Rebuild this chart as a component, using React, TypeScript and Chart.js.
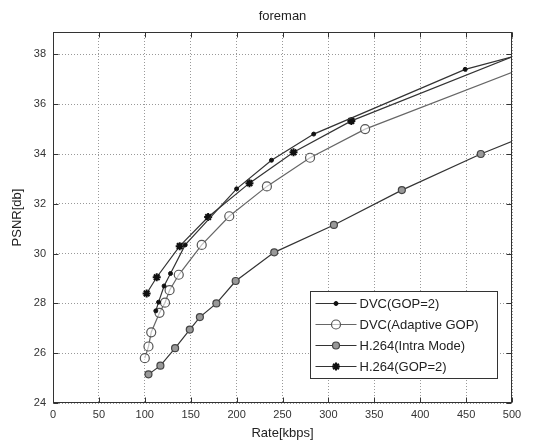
import React, { useEffect, useRef } from "react";
import { Chart, registerables } from "chart.js";
import { drawPoint } from "chart.js/helpers";

Chart.register(...registerables);

const titleText = "foreman";
const xAxisLabel = "Rate[kbps]";
const yAxisLabel = "PSNR[db]";
const xTickValues = [0, 50, 100, 150, 200, 250, 300, 350, 400, 450, 500];
const yTickValues = [24, 26, 28, 30, 32, 34, 36, 38];

const seriesNames = ["DVC(GOP=2)", "DVC(Adaptive GOP)", "H.264(Intra Mode)", "H.264(GOP=2)"];

const dvcGop2Rate = [112, 115, 121, 128, 144, 200, 238, 284, 449, 540];
const dvcGop2Psnr = [27.7, 28.05, 28.7, 29.2, 30.35, 32.6, 33.75, 34.8, 37.4, 38.3];

const dvcAdaptiveRate = [100, 104, 107, 116, 122, 127, 137, 162, 192, 233, 280, 340, 540];
const dvcAdaptivePsnr = [25.8, 26.27, 26.84, 27.62, 28.03, 28.53, 29.15, 30.35, 31.5, 32.7, 33.85, 35.0, 37.85];

const h264IntraRate = [104, 117, 133, 149, 160, 178, 199, 241, 306, 380, 466, 540];
const h264IntraPsnr = [25.15, 25.5, 26.2, 26.95, 27.45, 28.0, 28.9, 30.05, 31.15, 32.55, 34.0, 35.1];

const h264Gop2Rate = [102, 113, 138, 169, 214, 262, 325, 540];
const h264Gop2Psnr = [28.4, 29.05, 30.3, 31.47, 32.83, 34.07, 35.33, 38.49];

const toPoints = (xs: number[], ys: number[]) => xs.map((x, i) => ({ x, y: ys[i] }));

const FONT = "'Liberation Sans', Arial, sans-serif";

const matlabPlugin = {
  id: "matlabDecor",
  afterDraw(chart: any) {
    const { ctx, chartArea: a } = chart;
    const xs = chart.scales.x;
    const ys = chart.scales.y;
    ctx.save();
    ctx.strokeStyle = "#333";
    ctx.lineWidth = 1;
    const L = Math.round(a.left) + 0.5;
    const R = Math.round(a.right) - 0.5;
    const T = Math.round(a.top) + 0.5;
    const B = Math.round(a.bottom) - 0.5;
    ctx.strokeRect(L, T, R - L, B - T);
    const tl = 5;
    ctx.beginPath();
    xTickValues.forEach((v) => {
      const px = Math.round(xs.getPixelForValue(v)) + 0.5;
      ctx.moveTo(px, B);
      ctx.lineTo(px, B - tl);
      ctx.moveTo(px, T);
      ctx.lineTo(px, T + tl);
    });
    yTickValues.forEach((v) => {
      const py = Math.round(ys.getPixelForValue(v)) + 0.5;
      ctx.moveTo(L, py);
      ctx.lineTo(L + tl, py);
      ctx.moveTo(R, py);
      ctx.lineTo(R - tl, py);
    });
    ctx.stroke();

    ctx.fillStyle = "#222";
    ctx.font = `13px ${FONT}`;
    ctx.textAlign = "center";
    ctx.textBaseline = "middle";
    ctx.fillText(titleText, (a.left + a.right) / 2, 16);

    const bw = 187;
    const bh = 87;
    const bx = Math.round(a.right - 15 - bw) + 0.5;
    const by = Math.round(a.bottom - 25 - bh) + 0.5;
    ctx.fillStyle = "#fff";
    ctx.fillRect(bx, by, bw, bh);
    ctx.strokeStyle = "#333";
    ctx.lineWidth = 1;
    ctx.strokeRect(bx, by, bw, bh);
    ctx.font = `13px ${FONT}`;
    ctx.textAlign = "left";
    chart.data.datasets.forEach((ds: any, i: number) => {
      const ry = by + 12 + i * 21;
      const x1 = bx + 5;
      const x2 = bx + 46;
      ctx.strokeStyle = ds.borderColor;
      ctx.lineWidth = ds.borderWidth;
      ctx.beginPath();
      ctx.moveTo(x1, ry);
      ctx.lineTo(x2, ry);
      ctx.stroke();
      ctx.fillStyle = ds.pointBackgroundColor;
      ctx.strokeStyle = ds.pointBorderColor;
      ctx.lineWidth = ds.pointBorderWidth;
      drawPoint(ctx, { pointStyle: ds.pointStyle, rotation: 0, radius: ds.pointRadius, borderWidth: ds.pointBorderWidth }, (x1 + x2) / 2, ry);
      ctx.fillStyle = "#222";
      ctx.fillText(seriesNames[i], x2 + 3, ry + 1);
    });
    ctx.restore();
  },
};

export default function App() {
  const ref = useRef<HTMLCanvasElement | null>(null);
  useEffect(() => {
    if (!ref.current) return;
    const chart = new Chart(ref.current, {
      type: "line",
      data: {
        datasets: [
          {
            label: seriesNames[0],
            data: toPoints(dvcGop2Rate, dvcGop2Psnr),
            borderColor: "#333",
            borderWidth: 1.2,
            pointStyle: "circle",
            pointRadius: 2,
            pointBackgroundColor: "#111",
            pointBorderColor: "#111",
            pointBorderWidth: 1,
          },
          {
            label: seriesNames[1],
            data: toPoints(dvcAdaptiveRate, dvcAdaptivePsnr),
            borderColor: "#666",
            borderWidth: 1.2,
            pointStyle: "circle",
            pointRadius: 4.5,
            pointBackgroundColor: "rgba(255,255,255,0.6)",
            pointBorderColor: "#555",
            pointBorderWidth: 1.2,
          },
          {
            label: seriesNames[2],
            data: toPoints(h264IntraRate, h264IntraPsnr),
            borderColor: "#333",
            borderWidth: 1.2,
            pointStyle: "circle",
            pointRadius: 3.5,
            pointBackgroundColor: "#999",
            pointBorderColor: "#444",
            pointBorderWidth: 1.2,
          },
          {
            label: seriesNames[3],
            data: toPoints(h264Gop2Rate, h264Gop2Psnr),
            borderColor: "#333",
            borderWidth: 1.2,
            pointStyle: "star",
            pointRadius: 4,
            pointBackgroundColor: "#111",
            pointBorderColor: "#111",
            pointBorderWidth: 2,
          },
        ],
      },
      options: {
        animation: false,
        responsive: false,
        devicePixelRatio: 1,
        layout: { padding: { top: 32, right: 23, left: 0, bottom: 0 } },
        plugins: { legend: { display: false }, tooltip: { enabled: false }, title: { display: false } },
        elements: { line: { tension: 0 } },
        scales: {
          x: {
            type: "linear",
            min: 0,
            max: 500,
            afterFit: (s: any) => { s.height = 40; },
            ticks: { stepSize: 50, includeBounds: false, padding: 5, color: "#333", font: { family: FONT, size: 11 }, maxRotation: 0 },
            grid: { color: "#999", lineWidth: 1, drawTicks: false },
            border: { display: false, dash: [1, 2] },
            title: { display: true, text: xAxisLabel, color: "#222", font: { family: FONT, size: 13 }, padding: { top: 0, bottom: 2 } },
          },
          y: {
            type: "linear",
            min: 24,
            max: 38.9,
            afterFit: (s: any) => { s.width = 53; },
            ticks: { stepSize: 2, includeBounds: false, padding: 7, color: "#333", font: { family: FONT, size: 11 } },
            grid: { color: "#999", lineWidth: 1, drawTicks: false },
            border: { display: false, dash: [1, 2] },
            title: { display: true, text: yAxisLabel, color: "#222", font: { family: FONT, size: 13 }, padding: { top: 10, bottom: 0 } },
          },
        },
      },
      plugins: [matlabPlugin],
    } as any);
    return () => chart.destroy();
  }, []);
  return (
    <div style={{ position: "absolute", left: 0, top: 0, width: 535, height: 443, background: "#fff" }}>
      <canvas ref={ref} width={535} height={443} style={{ width: 535, height: 443, display: "block" }} />
    </div>
  );
}
